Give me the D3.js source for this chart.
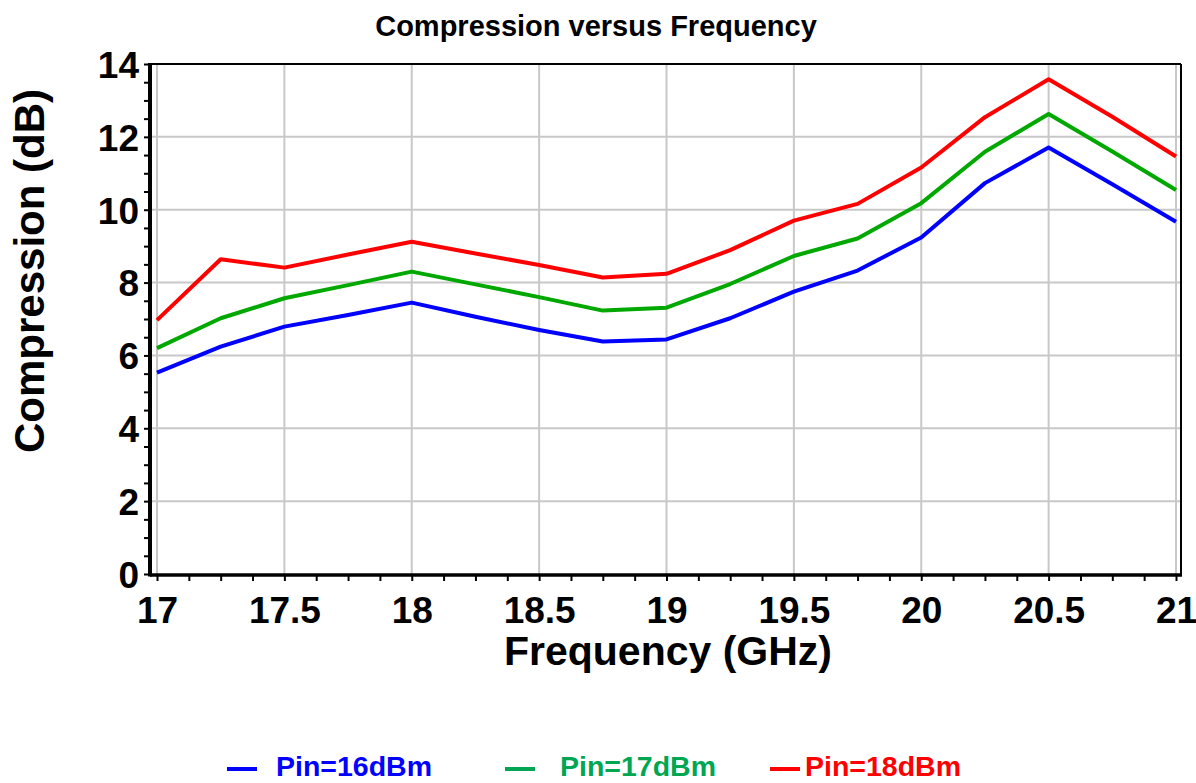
<!DOCTYPE html>
<html>
<head>
<meta charset="utf-8">
<script src="https://cdn.jsdelivr.net/npm/d3@7"></script>
<style>
  body { margin: 0; background: #fff; }
  svg { display: block; font-family: "Liberation Sans", Arial, sans-serif; font-weight: bold; }
</style>
</head>
<body>
<script>
const width = 1196;
const height = 783;

// data
const freq = [17, 17.25, 17.5, 17.75, 18, 18.25, 18.5, 18.75, 19, 19.25, 19.5, 19.75, 20, 20.25, 20.5, 20.75, 21];
const pin16 = [5.53, 6.24, 6.79, 7.11, 7.45, 7.06, 6.70, 6.38, 6.44, 7.02, 7.75, 8.33, 9.24, 10.73, 11.71, 10.70, 9.67];
const pin17 = [6.20, 7.02, 7.57, 7.93, 8.30, 7.95, 7.60, 7.23, 7.31, 7.96, 8.73, 9.21, 10.18, 11.59, 12.63, 11.60, 10.54];
const pin18 = [6.97, 8.64, 8.41, 8.77, 9.12, 8.80, 8.48, 8.14, 8.24, 8.89, 9.70, 10.16, 11.16, 12.54, 13.58, 12.55, 11.46];
const seriesNames = ["Pin=16dBm", "Pin=17dBm", "Pin=18dBm"];
const xTicks = [17, 17.5, 18, 18.5, 19, 19.5, 20, 20.5, 21];
const yTicks = [0, 2, 4, 6, 8, 10, 12, 14];

const lineColors = ["#0000ff", "#00a800", "#ff0000"];
const legendColors = ["#0000ff", "#00a651", "#ff0000"];

const frame = { left: 150, right: 1181, top: 64, bottom: 575 };

const svg = d3.select('body').append('svg')
    .attr('width', width)
    .attr('height', height);

// Scales
const xScale = d3.scaleLinear().domain([17, 21]).range([157, 1176]);
const yScale = d3.scaleLinear().domain([0, 14]).range([574, 64]);

// Grid
const grid = svg.append('g').attr('class', 'grid')
    .attr('stroke', '#c8c8c8').attr('stroke-width', 2);
grid.selectAll('.gx').data(xTicks).enter().append('line')
    .attr('x1', d => xScale(d)).attr('x2', d => xScale(d))
    .attr('y1', frame.top).attr('y2', frame.bottom);
grid.selectAll('.gy').data(yTicks.slice(1)).enter().append('line')
    .attr('x1', frame.left).attr('x2', frame.right)
    .attr('y1', d => yScale(d)).attr('y2', d => yScale(d));

// Top / right border
svg.append('line').attr('x1', frame.left).attr('x2', frame.right)
    .attr('y1', frame.top).attr('y2', frame.top)
    .attr('stroke', '#000').attr('stroke-width', 2);
svg.append('line').attr('x1', frame.right).attr('x2', frame.right)
    .attr('y1', frame.top).attr('y2', frame.bottom)
    .attr('stroke', '#000').attr('stroke-width', 2);

// Minor ticks
const xMinor = d3.range(17, 21.0001, 0.125);
const yMinor = d3.range(0, 14.0001, 0.5);

const xAxis = d3.axisBottom(xScale).tickValues(xMinor).tickSize(6)
    .tickFormat(d => xTicks.includes(d) ? d3.format('')(d) : '');
const yAxis = d3.axisLeft(yScale).tickValues(yMinor).tickSize(6)
    .tickFormat(d => yTicks.includes(d) ? d : '');

const gx = svg.append('g').attr('transform', `translate(0,${frame.bottom})`).call(xAxis);
gx.select('.domain').remove();
gx.selectAll('.tick line').attr('stroke-width', 2);
gx.selectAll('.tick text')
    .attr('font-size', 37).attr('font-weight', 'bold')
    .attr('font-family', '"Liberation Sans", Arial, sans-serif')
    .attr('fill', '#000').attr('dy', '0').attr('y', 48);

const gy = svg.append('g').attr('transform', `translate(${frame.left},0)`).call(yAxis);
gy.select('.domain').remove();
gy.selectAll('.tick line').attr('stroke-width', 2);
gy.selectAll('.tick text')
    .attr('font-size', 37).attr('font-weight', 'bold')
    .attr('font-family', '"Liberation Sans", Arial, sans-serif')
    .attr('fill', '#000').attr('x', -11).attr('dy', '0.36em');

// Thick axis lines
svg.append('line').attr('x1', frame.left).attr('x2', frame.right + 1)
    .attr('y1', frame.bottom).attr('y2', frame.bottom)
    .attr('stroke', '#000').attr('stroke-width', 3.5);
svg.append('line').attr('x1', frame.left).attr('x2', frame.left)
    .attr('y1', frame.top - 1).attr('y2', frame.bottom + 1.5)
    .attr('stroke', '#000').attr('stroke-width', 4);

// Lines
const series = [pin16, pin17, pin18];
const lineGen = d3.line()
    .x((d, i) => xScale(freq[i]))
    .y(d => yScale(d));

svg.append('g').attr('class', 'lines')
    .selectAll('path')
    .data(series)
    .enter()
    .append('path')
    .attr('d', d => lineGen(d))
    .attr('fill', 'none')
    .attr('stroke', (d, i) => lineColors[i])
    .attr('stroke-width', 4)
    .attr('stroke-linejoin', 'round');

// Titles
svg.append('text')
    .attr('x', 596).attr('y', 36)
    .attr('text-anchor', 'middle')
    .attr('font-size', 29)
    .text('Compression versus Frequency');

svg.append('text')
    .attr('x', 668).attr('y', 665)
    .attr('text-anchor', 'middle')
    .attr('font-size', 41)
    .text('Frequency (GHz)');

svg.append('text')
    .attr('transform', 'translate(44,271) rotate(-90)')
    .attr('text-anchor', 'middle')
    .attr('font-size', 42)
    .text('Compression (dB)');

// Legend
const legendX = [227, 505, 770];
const legendTextX = [276, 560, 805];
const legend = svg.append('g').attr('class', 'legend');
legend.selectAll('line').data(seriesNames).enter().append('line')
    .attr('x1', (d, i) => legendX[i]).attr('x2', (d, i) => legendX[i] + 30)
    .attr('y1', 769).attr('y2', 769)
    .attr('stroke', (d, i) => legendColors[i])
    .attr('stroke-width', 4);
legend.selectAll('text').data(seriesNames).enter().append('text')
    .attr('x', (d, i) => legendTextX[i]).attr('y', 776)
    .attr('font-size', 28.5)
    .attr('fill', (d, i) => legendColors[i])
    .text(d => d);
</script>
</body>
</html>
